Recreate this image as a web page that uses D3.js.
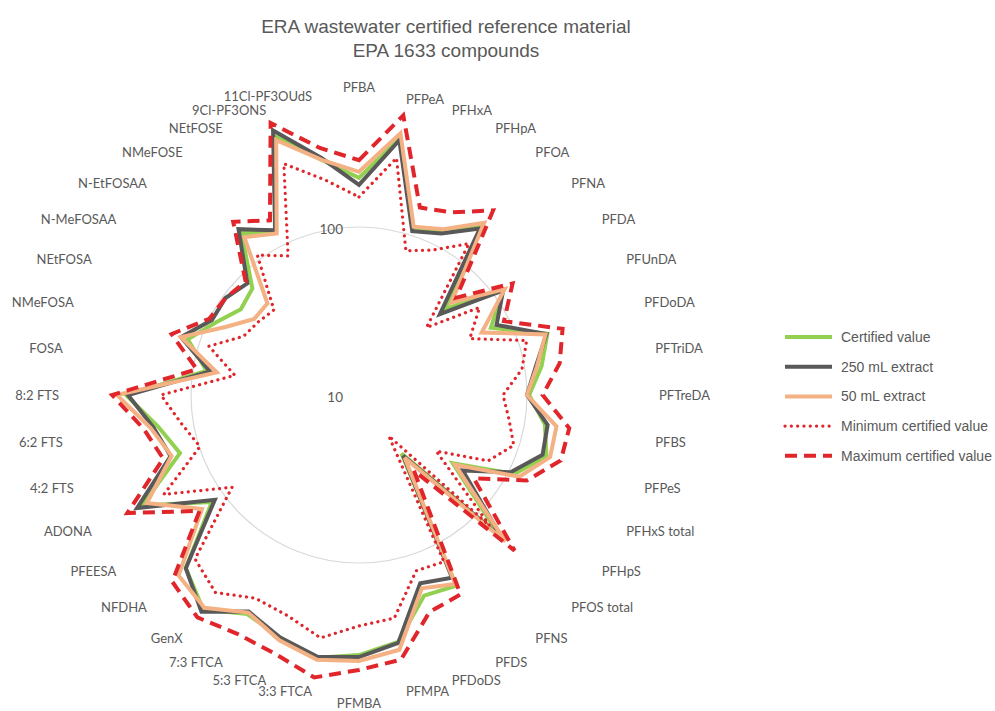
<!DOCTYPE html>
<html>
<head>
<meta charset="utf-8">
<script src="https://d3js.org/d3.v7.min.js"></script>
<style>
  body { margin: 0; background: #fff; }
  svg { display: block; }
  .title { font-family: "Liberation Sans", Arial, sans-serif; font-size: 19px; fill: #595959; }
  .cat { font-family: Lato, "Open Sans", sans-serif; font-size: 13px; fill: #595959; }
  .tick { font-family: Lato, "Open Sans", sans-serif; font-size: 13.5px; fill: #595959; }
  .legend text { font-family: "Liberation Sans", Arial, sans-serif; font-size: 14px; fill: #595959; }
</style>
</head>
<body>
<div id="chart"></div>
<script>
// compounds, clockwise from the top
const categories = ["PFBA","PFPeA","PFHxA","PFHpA","PFOA","PFNA","PFDA","PFUnDA","PFDoDA","PFTriDA",
  "PFTreDA","PFBS","PFPeS","PFHxS total","PFHpS","PFOS total","PFNS","PFDS","PFDoDS","PFMPA",
  "PFMBA","3:3 FTCA","5:3 FTCA","7:3 FTCA","GenX","NFDHA","PFEESA","ADONA","4:2 FTS","6:2 FTS",
  "8:2 FTS","FOSA","NMeFOSA","NEtFOSA","N-MeFOSAA","N-EtFOSAA","NMeFOSE","NEtFOSE","9Cl-PF3ONS","11Cl-PF3OUdS"];

const certified    = [196,353,109,125,175,53,115,76,151,126, 103,132,149,109,49,151,27,188,180,308,
                      353,383,330,291,378,287,121,280,132,162, 244,83,118,90,74,79,155,123,416,261];
const extract250   = [178,343,106,120,168,48,115,83,149,116, 100,137,141,103,58,159,28,166,151,312,
                      363,378,330,280,394,287,115,304,151,173, 237,79,130,96,96,87,166,126,452,268];
const extract50    = [213,378,113,128,185,60,118,66,147,118, 100,155,157,118,51,171,29,183,162,343,
                      383,394,343,284,368,330,143,261,149,180, 276,72,130,78,59,59,145,120,394,261];
const minCertified = [151,268,80,93,130,37,77,55,112,96, 72,80,93,73,37,126,20,130,126,221,
                      237,291,240,228,284,240,86,201,99,118, 151,56,87,59,55,52,107,85,280,198];
const maxCertified = [250,484,149,166,228,66,135,93,188,162, 124,185,183,132,70,204,36,215,228,394,
                      433,504,416,394,433,373,149,353,168,198, 295,95,149,100,96,90,188,147,504,308];

const gridValues = [10, 100];

const series = [
  {name: "Certified value",         values: certified,    color: "#92d050", width: 4,   dash: null,   cap: "butt"},
  {name: "250 mL extract",          values: extract250,   color: "#595959", width: 4,   dash: null,   cap: "butt"},
  {name: "50 mL extract",           values: extract50,    color: "#f4b183", width: 4,   dash: null,   cap: "butt"},
  {name: "Minimum certified value", values: minCertified, color: "#e0262b", width: 3.2, dash: "0.1 6.2", cap: "round"},
  {name: "Maximum certified value", values: maxCertified, color: "#e0262b", width: 4,   dash: "12 7", cap: "butt"}
];

const W = 995, H = 711;
const cx = 359, cy = 395, decade = 168;

const svg = d3.select("#chart").append("svg")
  .attr("width", W).attr("height", H);

const r = d3.scaleLog().domain([10, 1000]).range([0, 2 * decade]);
const angle = d3.scaleLinear().domain([0, categories.length]).range([0, 2 * Math.PI]);

const g = svg.append("g").attr("transform", `translate(${cx},${cy})`);

// grid circle (only the 100 ring is visible)
g.selectAll("circle.grid")
  .data(gridValues.filter(v => v > 10))
  .enter().append("circle")
  .attr("class", "grid")
  .attr("r", d => r(d))
  .attr("fill", "none")
  .attr("stroke", "#d9d9d9")
  .attr("stroke-width", 1.2);

const radial = d3.lineRadial()
  .angle((d, i) => angle(i))
  .radius(d => r(d))
  .curve(d3.curveLinearClosed);

g.selectAll("path.series")
  .data(series)
  .enter().append("path")
  .attr("class", "series")
  .attr("d", d => radial(d.values))
  .attr("fill", "none")
  .attr("stroke", d => d.color)
  .attr("stroke-width", d => d.width)
  .attr("stroke-dasharray", d => d.dash)
  .attr("stroke-linecap", d => d.cap)
  .attr("stroke-linejoin", "miter");

// radial tick labels
g.selectAll("text.tick")
  .data(gridValues)
  .enter().append("text")
  .attr("class", "tick")
  .attr("x", -16)
  .attr("y", d => -r(d) + 2)
  .attr("text-anchor", "end")
  .attr("dominant-baseline", "central")
  .text(d => d);

// category labels: left/right aligned like the spreadsheet does
const R = 300;
g.selectAll("text.cat")
  .data(categories)
  .enter().append("text")
  .attr("class", "cat")
  .attr("dominant-baseline", "central")
  .each(function(d, i) {
    const a = angle(i), s = Math.sin(a), c = Math.cos(a);
    const el = d3.select(this).text(d);
    if (Math.abs(s) < 0.01) {
      el.attr("text-anchor", "middle")
        .attr("x", 0)
        .attr("y", -R * c - c * 8);
    } else {
      el.attr("text-anchor", s > 0 ? "start" : "end")
        .attr("x", R * s)
        .attr("y", -R * c - (i === categories.length - 1 ? 3 : 0));
    }
  });

// title
svg.append("text").attr("class", "title")
  .attr("x", 446).attr("y", 33).attr("text-anchor", "middle")
  .text("ERA wastewater certified reference material");
svg.append("text").attr("class", "title")
  .attr("x", 446).attr("y", 57).attr("text-anchor", "middle")
  .text("EPA 1633 compounds");

// legend
const legend = svg.append("g").attr("class", "legend")
  .attr("transform", "translate(785,337)");
const item = legend.selectAll("g")
  .data(series)
  .enter().append("g")
  .attr("transform", (d, i) => `translate(0,${i * 29.7})`);
item.append("line")
  .attr("x1", 0).attr("x2", 47)
  .attr("stroke", d => d.color)
  .attr("stroke-width", d => d.width)
  .attr("stroke-dasharray", d => d.dash)
  .attr("stroke-linecap", d => d.cap);
item.append("text")
  .attr("x", 56)
  .attr("dominant-baseline", "central")
  .text(d => d.name);
</script>
</body>
</html>
